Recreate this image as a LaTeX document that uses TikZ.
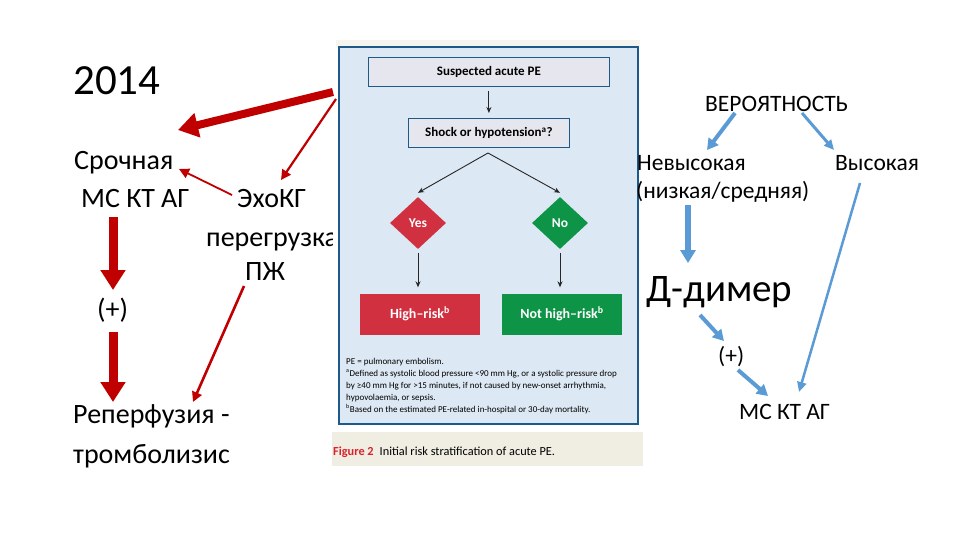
\documentclass[tikz,border=0pt]{standalone}
\usepackage{fontspec}
\setmainfont{Carlito}
\usetikzlibrary{arrows.meta,shapes.geometric}
\definecolor{darkred}{HTML}{C00000}
\definecolor{sblue}{HTML}{5B9BD5}
\definecolor{panelfill}{HTML}{DCE8F4}
\definecolor{panelborder}{HTML}{1D5A8A}
\definecolor{boxfill}{HTML}{E6E6EE}
\definecolor{riskred}{HTML}{D0303F}
\definecolor{riskgreen}{HTML}{0E9447}
\definecolor{capfill}{HTML}{F0EDE3}
\definecolor{figred}{HTML}{D8232A}
\tikzset{
  txt/.style={inner sep=0pt, anchor=base west, font=\fontsize{28}{30}\selectfont},
  rtxt/.style={inner sep=0pt, anchor=base west, font=\fontsize{23.5}{25}\selectfont},
  redthick/.style={draw=darkred, line width=8pt, -{Triangle[length=20pt,width=24pt]}},
  redthin/.style={draw=darkred, line width=2.2pt, -{Triangle[length=10pt,width=10pt]}},
  bluethick/.style={draw=sblue, line width=5.5pt, -{Triangle[length=13pt,width=15pt]}},
  bluemid/.style={draw=sblue, line width=4pt, -{Triangle[length=11pt,width=12pt]}},
  bluethin/.style={draw=sblue, line width=2.5pt, -{Triangle[length=10pt,width=9pt]}},
  figbox/.style={draw=panelborder, line width=0.8pt, fill=boxfill, inner sep=0pt,
     font=\fontsize{13}{14}\selectfont\bfseries},
  riskbox/.style={inner sep=0pt, minimum width=120pt, minimum height=41pt, text=white,
     font=\fontsize{14}{15}\selectfont\bfseries},
  dia/.style={diamond, inner sep=0pt, minimum width=56pt, minimum height=52pt, text=white,
     font=\fontsize{13.5}{14}\selectfont\bfseries},
  figarrow/.style={draw=black!85, line width=0.9pt, -{Stealth[length=6pt,width=5pt]}},
  foot/.style={inner sep=0pt, anchor=base west, font=\fontsize{9}{10}\selectfont}
}
\begin{document}
\begin{tikzpicture}[x=1pt,y=-1pt]
\useasboundingbox (0,0) rectangle (960,540);
\fill[white] (0,0) rectangle (960,540);

% left texts
\node[inner sep=0pt, anchor=base west, font=\fontsize{43}{45}\selectfont] (year) at (73,95) {2014};
\node[txt] (srochnaya) at (74,170) {Срочная};
\node[txt] (mskt) at (81,207) {МС КТ АГ};
\node[txt] (echo) at (237,207) {ЭхоКГ};
\node[txt] (peregruz) at (206,246) {перегрузка};
\node[txt] (pzh) at (245,280) {ПЖ};
\node[txt] (plusL) at (97,318) {(+)};
\node[txt] (reperf) at (73,423) {Реперфузия -};
\node[txt] (tromb) at (73,463) {тромболизис};

% embedded figure
\fill[white] (333,40) rectangle (642,428);
\fill[capfill!60] (336,40) rectangle (640,46);
\node[draw=panelborder, line width=2pt, fill=panelfill, inner sep=0pt, anchor=north west,
  minimum width=299pt, minimum height=377pt] (panel) at (338,46) {};
\node[figbox, minimum width=241pt, minimum height=29pt, anchor=north west] (susp) at (368,57) {Suspected acute PE};
\node[figbox, minimum width=161pt, minimum height=29pt, anchor=north west] (shock) at (408,118) {Shock or hypotension\textsuperscript{a}?};
\node[dia, fill=riskred] (yes) at (418,223) {Yes};
\node[dia, fill=riskgreen] (no) at (560,223) {No};
\node[riskbox, fill=riskred] (high) at (420,314) {High–risk\textsuperscript{b}};
\node[riskbox, fill=riskgreen] (nothigh) at (562,314) {Not high–risk\textsuperscript{b}};
\coordinate (apex) at (488,153);
\draw[figarrow] ([yshift=-4pt]susp.south) -- ([yshift=5pt]shock.north);
\draw[figarrow] (apex) -- ([yshift=4pt]yes.north);
\draw[figarrow] (apex) -- ([yshift=4pt]no.north);
\draw[figarrow] ([yshift=-4pt]yes.south) -- ([yshift=6pt]yes.south |- high.north);
\draw[figarrow] ([yshift=-4pt]no.south) -- ([yshift=6pt]no.south |- nothigh.north);
\node[foot] (f1) at (346,364) {PE = pulmonary embolism.};
\node[foot] (f2) at (346,376) {\textsuperscript{a}Defined as systolic blood pressure <90 mm Hg, or a systolic pressure drop};
\node[foot] (f3) at (346,388) {by ≥40 mm Hg for >15 minutes, if not caused by new-onset arrhythmia,};
\node[foot] (f4) at (346,400) {hypovolaemia, or sepsis.};
\node[foot] (f5) at (346,412) {\textsuperscript{b}Based on the estimated PE-related in-hospital or 30-day mortality.};
\node[fill=capfill, inner sep=0pt, anchor=north west, minimum width=311pt, minimum height=34pt] (capbg) at (332,432) {};
\node[inner sep=0pt, anchor=west, font=\fontsize{12.3}{13}\selectfont] (cap) at (333,452)
  {\textcolor{figred}{\bfseries Figure 2}\hspace{6pt}Initial risk stratification of acute PE.};

% red arrows
\coordinate (s1) at (333,92);
\coordinate (e1) at (178,130);
\coordinate (s2) at (336,99);
\coordinate (e2) at (281,180);
\coordinate (s3) at (232,195);
\coordinate (e3) at (179,169);
\coordinate (s4) at (113,217);
\coordinate (e4) at (113,290);
\coordinate (s5) at (113,332);
\coordinate (e5) at (113,402);
\coordinate (s6) at (244,286);
\coordinate (e6) at (193,402);
\draw[redthick] (s1) -- (e1);
\draw[redthin] (s2) -- (e2);
\draw[redthin, line width=1.8pt] (s3) -- (e3);
\draw[redthick, line width=9pt] (s4) -- (e4);
\draw[redthick, line width=9pt] (s5) -- (e5);
\draw[redthin, line width=2.6pt] (s6) -- (e6);

% right texts
\node[rtxt] (ver) at (705,112) {ВЕРОЯТНОСТЬ};
\node[rtxt] (nevys) at (637,171) {Невысокая};
\node[rtxt] (nizk) at (636,198) {(низкая/средняя)};
\node[rtxt] (vys) at (835,171) {Высокая};
\node[inner sep=0pt, anchor=base west, font=\fontsize{39}{41}\selectfont] (ddim) at (646,301) {Д-димер};
\node[rtxt] (plusR) at (718,363) {(+)};
\node[rtxt] (msktR) at (739,419) {МС КТ АГ};

% blue arrows
\coordinate (b1s) at (735,113);
\coordinate (b1e) at (707,150);
\coordinate (b2s) at (802,113);
\coordinate (b2e) at (834,150);
\coordinate (b3s) at (688,205);
\coordinate (b3e) at (688,263);
\coordinate (b4s) at (700,315);
\coordinate (b4e) at (724,341);
\coordinate (b5s) at (738,370);
\coordinate (b5e) at (768,396);
\coordinate (b6s) at (860,183);
\coordinate (b6e) at (799,392);
\draw[bluemid] (b1s) -- (b1e);
\draw[bluethin, line width=3pt] (b2s) -- (b2e);
\draw[bluethick] (b3s) -- (b3e);
\draw[bluemid] (b4s) -- (b4e);
\draw[bluemid] (b5s) -- (b5e);
\draw[bluethin] (b6s) -- (b6e);
\end{tikzpicture}
\end{document}
